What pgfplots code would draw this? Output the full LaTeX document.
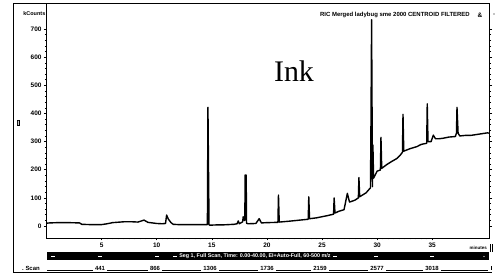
\documentclass[border=0pt]{standalone}
\usepackage{pgfplots}
\pgfplotsset{compat=1.18}
\usepackage{fontspec}
\setmainfont{Liberation Sans}
\newfontfamily\serifink{Liberation Serif}
\begin{document}
\begin{tikzpicture}
\useasboundingbox (0,0) rectangle (498bp,273bp);
\begin{axis}[
  at={(46.5bp,35bp)}, anchor=south west,
  scale only axis, width=443bp, height=234bp,
  xmin=0, xmax=40.2, ymin=-42.6, ymax=789,
  axis line style={line width=1pt},
  xtick={5,10,15,20,25,30,35},
  ytick={0,100,200,300,400,500,600,700},
  minor x tick num=9, minor y tick num=4,
  xtick pos=bottom, ytick pos=both,
  tick align=outside,
  major tick length=2.5bp, minor tick length=1.5bp,
  every tick/.style={black, line width=0.6pt},
  /pgf/number format/assume math mode=true,
  tick label style={font=\bfseries\fontsize{6.5}{7}\selectfont},
  xticklabel style={yshift=1bp},
  yticklabel style={xshift=1bp},
  clip=true,
]
\addplot[black, line width=1.4pt, line join=round] coordinates {
(0,10) (0.3,11) (1,12) (2,12) (3,11) (3.2,6) (4,5) (5,5) (5.5,8) (6,12) (7,15) (7.8,15) (8.3,14) (8.85,21) (9.2,13) (9.6,11) (10,9) (10.5,8) (10.8,9) (10.9,39) (11.05,25) (11.3,12) (11.5,6) (12,5) (13,5) (14,5) (14.6,5) (14.65,422) (14.75,5) (14.8,3) (15.5,4) (16,4) (16.5,5) (17,6) (17.3,8) (17.4,18) (17.5,8) (17.8,15) (17.85,33) (17.95,20) (18.0,20) (18.02,181) (18.12,181) (18.15,10) (18.3,8) (19,9) (19.3,26) (19.5,11) (20,12) (21.0,13) (21.05,110) (21.12,14) (22,17) (23,21) (23.75,24) (23.8,104) (23.87,26) (24.5,29) (25,33) (25.5,37) (26.05,42) (26.1,100) (26.18,46) (26.5,52) (27,58) (27.3,116) (27.5,85) (28,92) (28.3,100) (28.35,172) (28.42,104) (29,118) (29.4,136) (29.45,400) (29.5,733) (29.58,140) (29.62,288) (29.68,170) (30,195) (30.3,199) (30.35,315) (30.42,205) (30.9,219) (31.35,230) (31.8,240) (32.1,252) (32.3,262) (32.35,397) (32.42,266) (33,275) (33.6,282) (34,290) (34.5,294) (34.55,434) (34.62,300) (34.9,300) (35.1,323) (35.3,310) (35.6,310) (36,312) (36.5,316) (37.1,318) (37.2,330) (37.25,422) (37.35,330) (37.5,320) (38,322) (38.5,322) (39,325) (39.5,328) (40,331) (40.2,330)
};
\end{axis}
% frame lines
\draw[line width=1pt] (13bp,1bp) -- (13bp,269bp) -- (490bp,269bp);
\draw[line width=1pt] (13bp,1bp) -- (492bp,1bp);
% titles
\node[anchor=east, inner sep=0pt, font=\bfseries\fontsize{6}{6}\selectfont] at (470bp,258bp) {RIC Merged ladybug sme 2000 CENTROID FILTERED};
\node[anchor=center, inner sep=0pt, font=\bfseries\fontsize{6.5}{6}\selectfont] at (480bp,258bp) {\&};
\fill (494bp,259bp) circle (0.6bp);
\node[anchor=east, inner sep=0pt, font=\bfseries\fontsize{5.5}{5}\selectfont] at (45.5bp,259bp) {kCounts};
\node[fill=black, text=white, inner sep=0.8pt, font=\bfseries\fontsize{6}{6}\selectfont] at (18.5bp,150bp) {I};
\node[anchor=base, inner sep=0pt, font=\serifink\fontsize{30}{32}\selectfont] at (294bp,191bp) {Ink};
\node[anchor=east, inner sep=0pt, font=\bfseries\fontsize{4.5}{5}\selectfont] at (487bp,25bp) {minutes};
\draw[line width=0.6pt] (490.5bp,21bp) -- (490.5bp,29bp) (492.5bp,21bp) -- (492.5bp,29bp);
% segment bar
\fill (47bp,12.5bp) rectangle (489bp,20.5bp);
\node[text=white, inner sep=0pt, font=\bfseries\fontsize{5.4}{6}\selectfont] at (255bp,16.5bp) {Seg 1, Full Scan, Time: 0.00-40.00, EI+Auto-Full, 60-500 m/z};
\foreach \xx in {53,100,157,175,335,376,432} {\draw[white, line width=0.8pt] (\xx bp-2bp,16.5bp) -- (\xx bp+2bp,16.5bp);}
\fill[white] (484bp,16.5bp) circle (0.6bp);
% scan row
\draw[line width=0.6pt] (47bp,3bp) -- (488bp,3bp);
\draw[line width=0.6pt] (491bp,3bp) -- (491bp,7bp);
\node[anchor=east, inner sep=0pt, font=\bfseries\fontsize{6}{6}\selectfont] at (40bp,5bp) {.~Scan};
\foreach \xx/\lab in {100/441,155/866,210/1306,267/1736,320/2159,377/2577,432/3018}
  {\node[fill=white, inner xsep=2.5bp, inner ysep=0.5bp, font=\bfseries\fontsize{6}{6}\selectfont] at (\xx bp,5bp) {\lab};}
\end{tikzpicture}
\end{document}
